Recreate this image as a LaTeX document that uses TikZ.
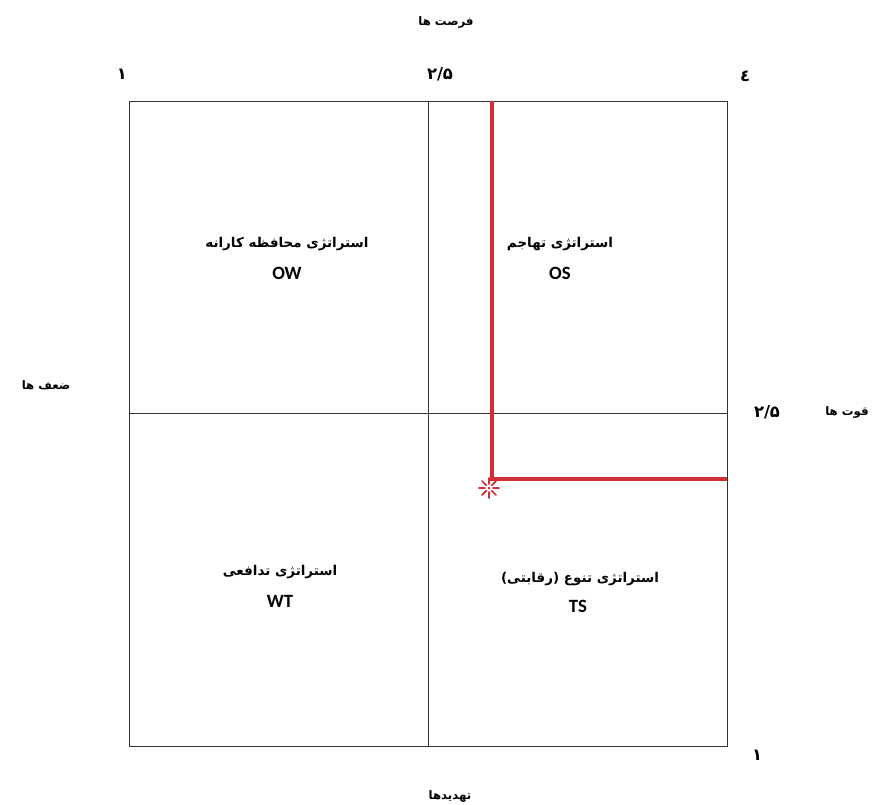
\documentclass[tikz,border=0pt]{standalone}
\usepackage{fontspec}
\setmainfont{Carlito}
\newfontfamily\farsi[Script=Arabic]{DejaVu Sans}
\TeXXeTstate=1
\usetikzlibrary{positioning}
\definecolor{swotred}{HTML}{D22E36}
\definecolor{gridgray}{HTML}{333333}

\begin{document}
\begin{tikzpicture}[x=0.03cm, y=-0.03cm,
  axis/.style={font=\farsi\bfseries\fontsize{10}{12}\selectfont, inner sep=1pt},
  fa/.style={font=\farsi\bfseries\fontsize{11.5}{14}\selectfont, inner sep=1pt},
  num/.style={font=\farsi\bfseries\fontsize{14}{16}\selectfont, inner sep=1pt},
  code/.style={font=\bfseries\fontsize{16}{18}\selectfont, inner sep=1pt},
  gridline/.style={draw=gridgray, line width=0.7pt},
  redline/.style={draw=swotred, line width=2.8pt}]
  \useasboundingbox[fill=white] (0,0) rectangle (873,804);
  % frame and quadrant lines
  \coordinate (nw) at (129,101);
  \coordinate (se) at (727,746);
  \coordinate (mtop) at (428,101);
  \coordinate (mbot) at (428,746);
  \coordinate (mleft) at (129,413);
  \coordinate (mright) at (727,413);
  \draw[gridline] (nw) rectangle (se);
  \draw[gridline] (mtop) -- (mbot);
  \draw[gridline] (mleft) -- (mright);
  % axis labels
  \node[axis] (opp) at (446,22) {\beginR فرصت ها\endR};
  \node[axis] (weak) at (46,385) {\beginR ضعف ها\endR};
  \node[axis] (str) at (847,412) {\beginR قوت ها\endR};
  \node[axis] (thr) at (450,796) {\beginR تهدیدها\endR};
  % scale values
  \node[num] (oone) at (122,74) {۱};
  \node[num] (ohalf) at (440,74) {۲/۵};
  \node[num] (ofour) at (745,76) {٤};
  \node[num] (shalf) at (767,412) {۲/۵};
  \node[num] (sone) at (757,755) {۱};
  % quadrants
  \node[fa] (ow) at (287,244) {\beginR استراتژی محافظه کارانه\endR};
  \node[code] (owc) at (287,273) {OW};
  \node[fa] (os) at (560,244) {\beginR استراتژی تهاجم\endR};
  \node[code] (osc) at (560,273) {OS};
  \node[fa] (wt) at (280,572) {\beginR استراتژی تدافعی\endR};
  \node[code] (wtc) at (280,601) {WT};
  \node[fa] (ts) at (580,579) {\beginR استراتژی تنوع (رقابتی)\endR};
  \node[code] (tsc) at (578,606) {TS};
  % position of the organisation
  \coordinate (rtop) at (492,101);
  \coordinate (rcorner) at (492,479);
  \coordinate (rright) at (727,479);
  \draw[redline] (rtop) -- (rcorner) -- (rright);
  \coordinate (score) at (489,488);
  \foreach \a in {0,45,...,315}
    \draw[swotred, line width=1.5pt, line cap=round, shift={(score)}] (\a:4) -- (\a:10);
  \fill[swotred] (score) circle (1.5);
\end{tikzpicture}
\end{document}
